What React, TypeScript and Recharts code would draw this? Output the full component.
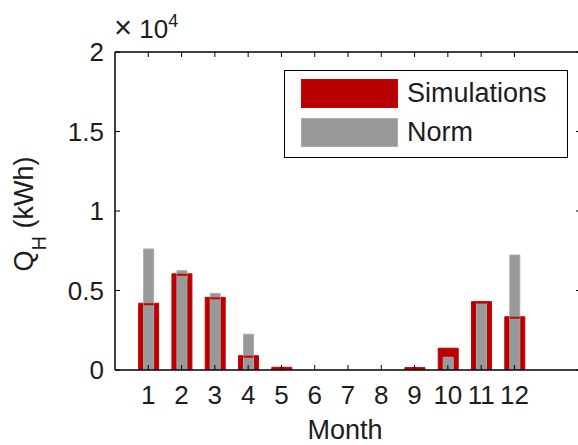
import React from 'react';
import { BarChart, Bar, XAxis, YAxis, Legend } from 'recharts';

const months = [1, 2, 3, 4, 5, 6, 7, 8, 9, 10, 11, 12];
const simulations = [4200, 6050, 4570, 900, 170, 0, 0, 0, 150, 1370, 4300, 3350];
const norm = [7610, 6250, 4820, 2250, 0, 0, 0, 0, 0, 800, 4200, 7230];
const yTicks = [0, 5000, 10000, 15000, 20000];
const xDomain = [0, 14];
const yDomain = [0, 20000];
const seriesNames = ['Simulations', 'Norm'];

const data = months.map((m, i) => ({ month: m, sim: simulations[i], norm: norm[i] }));

const FONT = '"Liberation Sans", Arial, Helvetica, sans-serif';
const TXT = '#1c1c1c';
const RED = '#b80000';
const RED_EDGE = '#cc0000';
const GRAY = '#999999';
const GRAY_EDGE = '#ababab';

const BottomTick = (p: any) => {
  const { x, y, payload } = p;
  return (
    <g>
      <line x1={x} x2={x} y1={y} y2={y - 5} stroke="#000" strokeWidth={1} />
      <text x={x} y={y + 34} textAnchor="middle" fontSize={26} fill={TXT} fontFamily={FONT}>
        {payload.value}
      </text>
    </g>
  );
};

const TopTick = (p: any) => {
  const { x, y } = p;
  return <line x1={x} x2={x} y1={y} y2={y + 5} stroke="#000" strokeWidth={1} />;
};

const LeftTick = (p: any) => {
  const { x, y, payload } = p;
  return (
    <g>
      <line x1={x} x2={x + 5} y1={y} y2={y} stroke="#000" strokeWidth={1} />
      <text x={x - 11} y={y + 9} textAnchor="end" fontSize={26} fill={TXT} fontFamily={FONT}>
        {String(payload.value / 10000)}
      </text>
    </g>
  );
};

const RightTick = (p: any) => {
  const { x, y } = p;
  return <line x1={x} x2={x - 5} y1={y} y2={y} stroke="#000" strokeWidth={1} />;
};

const MonthLabel = (p: any) => {
  const vb = p.viewBox || {};
  return (
    <text x={vb.x + vb.width / 2 - 3} y={vb.y + 69} textAnchor="middle" fontSize={27} fill={TXT} fontFamily={FONT}>
      Month
    </text>
  );
};

const QLabel = (p: any) => {
  const vb = p.viewBox || {};
  const cx = 33;
  const cy = vb.y + vb.height / 2 + 3;
  return (
    <text
      x={cx}
      y={cy}
      transform={`rotate(-90, ${cx}, ${cy})`}
      textAnchor="middle"
      fontSize={27}
      fill={TXT}
      fontFamily={FONT}
    >
      Q
      <tspan fontSize={20} dy={13}>H</tspan>
      <tspan dy={-13}> (kWh)</tspan>
    </text>
  );
};

const ExpLabel = (p: any) => {
  const vb = p.viewBox || {};
  return (
    <text x={vb.x - 1} y={vb.y + (vb.height || 0) - 14} fontSize={26} fill={TXT} fontFamily={FONT}>
      <tspan fontSize={31}>×</tspan>
      <tspan> 10</tspan>
      <tspan fontSize={18} dy={-11}>4</tspan>
    </text>
  );
};

const EdgeLine = (p: any) => {
  const { x, y, width, height } = p;
  if (!height || height <= 0) return null;
  return <line x1={x} x2={x + width} y1={y + 1} y2={y + 1} stroke={RED_EDGE} strokeWidth={2} />;
};

const LegendBox = () => (
  <div
    style={{
      width: 284,
      height: 88,
      boxSizing: 'border-box',
      border: '1px solid #000',
      background: '#fff',
      position: 'relative',
      fontFamily: FONT,
      color: TXT,
      fontSize: 27,
    }}
  >
    <div style={{ position: 'absolute', left: 16, top: 8, width: 97, height: 29, background: RED, border: `1px solid ${RED_EDGE}`, boxSizing: 'border-box' }} />
    <div style={{ position: 'absolute', left: 16, top: 47, width: 97, height: 29, background: GRAY, border: `1px solid ${GRAY_EDGE}`, boxSizing: 'border-box' }} />
    <div style={{ position: 'absolute', left: 122, top: 7, lineHeight: '31px' }}>{seriesNames[0]}</div>
    <div style={{ position: 'absolute', left: 122, top: 46, lineHeight: '31px' }}>{seriesNames[1]}</div>
  </div>
);

export default function App() {
  return (
    <div style={{ position: 'absolute', left: 0, top: 0, width: 578, height: 445, overflow: 'hidden', background: '#fff' }}>
      <BarChart width={582} height={445} data={data} margin={{ top: 51, right: 0, left: 0, bottom: 45 }}>
        <XAxis
          xAxisId="a"
          dataKey="month"
          type="number"
          domain={xDomain}
          ticks={months}
          allowDataOverflow
          height={30}
          tickSize={0}
          tickMargin={0}
          tickLine={false}
          axisLine={{ stroke: '#000', strokeWidth: 1.5 }}
          tick={<BottomTick />}
          label={<MonthLabel />}
          interval={0}
        />
        <XAxis xAxisId="b" dataKey="month" type="number" domain={xDomain} ticks={months} allowDataOverflow hide />
        <XAxis
          xAxisId="top"
          orientation="top"
          dataKey="month"
          type="number"
          domain={xDomain}
          ticks={months}
          allowDataOverflow
          height={1}
          tickSize={0}
          tickMargin={0}
          tickLine={false}
          axisLine={{ stroke: '#000', strokeWidth: 1.5 }}
          tick={<TopTick />}
          label={<ExpLabel />}
          interval={0}
        />
        <YAxis
          type="number"
          domain={yDomain}
          ticks={yTicks}
          allowDataOverflow
          width={115}
          tickSize={0}
          tickMargin={0}
          tickLine={false}
          axisLine={{ stroke: '#000', strokeWidth: 1.5 }}
          tick={<LeftTick />}
          label={<QLabel />}
          interval={0}
        />
        <YAxis
          yAxisId="r"
          orientation="right"
          type="number"
          domain={yDomain}
          ticks={yTicks}
          allowDataOverflow
          width={1}
          tickSize={0}
          tickMargin={0}
          tickLine={false}
          axisLine={{ stroke: '#000', strokeWidth: 1.5 }}
          tick={<RightTick />}
          interval={0}
        />
        <Legend
          verticalAlign="middle"
          align="center"
          layout="horizontal"
          wrapperStyle={{ left: 284, top: 70, width: 284, height: 88 }}
          content={<LegendBox />}
        />
        <Bar xAxisId="a" dataKey="sim" name={seriesNames[0]} barSize={20} fill={RED} stroke={RED_EDGE} strokeWidth={1} isAnimationActive={false} />
        <Bar xAxisId="b" dataKey="norm" name={seriesNames[1]} barSize={10} fill={GRAY} stroke={GRAY_EDGE} strokeWidth={1} isAnimationActive={false} />
        <Bar xAxisId="top" yAxisId="r" dataKey="sim" barSize={10} shape={<EdgeLine />} legendType="none" isAnimationActive={false} />
      </BarChart>
    </div>
  );
}
